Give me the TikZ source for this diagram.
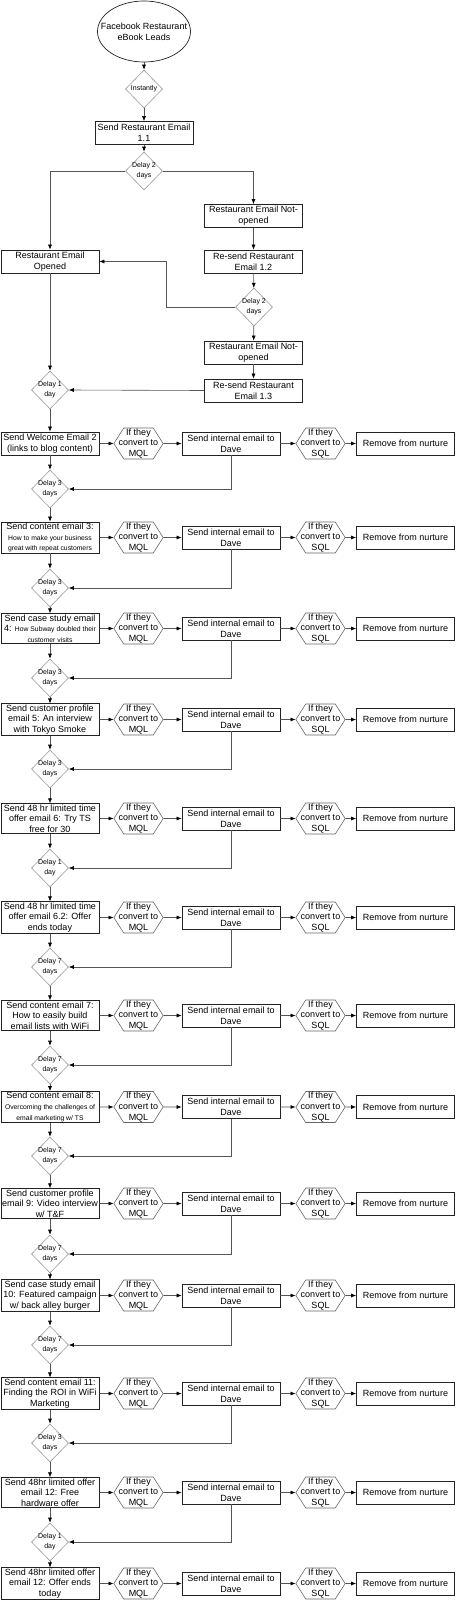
\documentclass[tikz,border=0pt]{standalone}
\usepackage{fontspec}
\setmainfont{Liberation Sans}
\usetikzlibrary{positioning}
\usetikzlibrary{shapes.geometric}
\usetikzlibrary{shapes.symbols}
\usetikzlibrary{arrows.meta}
\definecolor{lineColor}{HTML}{555555}
\definecolor{boxColor}{HTML}{222222}
\definecolor{hexColor}{HTML}{666666}
\definecolor{delayColor}{HTML}{999999}
\newcommand{\txtn}{\fontsize{9}{10.7}\selectfont}
\newcommand{\txts}{\fontsize{6.8}{10.7}\selectfont}
\newcommand{\txtd}{\fontsize{7}{10}\selectfont}

\begin{document}
\begin{tikzpicture}[
			x=1pt, y=-1pt,
			box/.style={draw=boxColor, line width=0.7pt, minimum width=98, minimum height=23, inner xsep=0.5, inner ysep=0.8, align=center, font=\txtn},
			lead/.style={ellipse, draw=boxColor, line width=0.7pt, minimum width=93, minimum height=61, inner xsep=-11pt, inner ysep=0pt, align=center, font=\txtn},
			delay/.style={diamond, draw=delayColor, line width=0.6pt, minimum width=37, minimum height=38, inner sep=-5pt, align=center, font=\txtd},
			hexa/.style={signal, signal to=east and west, signal pointer angle=115, draw=hexColor, line width=0.6pt, minimum height=31, inner xsep=-5pt, inner ysep=0pt, align=center, font=\txtn},
			flow/.style={draw=lineColor, line width=0.6pt, -{Latex[length=5pt,width=4pt,color=black]}},
			]
			\useasboundingbox (0,0) rectangle (456,1600);
			% opening branch
			\node[lead] (fb) at (144,31.5) {Facebook Restaurant\\eBook Leads};
			\node[delay] (inst) at (144,89) {Instantly};
			\node[box] (em11) at (144,133) {Send Restaurant Email\\1.1};
			\node[delay] (wait2a) at (144,171) {Delay 2\\days};
			\node[box] (notop1) at (253.5,216) {Restaurant Email Not-\\opened};
			\node[box] (opened) at (50,261.5) {Restaurant Email\\Opened};
			\node[box] (re12) at (253.5,261.5) {Re-send Restaurant\\Email 1.2};
			\node[delay] (wait2b) at (254,307) {Delay 2\\days};
			\node[box] (notop2) at (253.5,352.5) {Restaurant Email Not-\\opened};
			\node[box] (re13) at (253.5,390.5) {Re-send Restaurant\\Email 1.3};
			\node[delay] (wait1) at (50,390) {Delay 1\\day};
			% nurture emails
			\node[box] (s1) at (50,443.5) {Send Welcome Email 2\\(links to blog content)};
			\node[delay] (w1) at (50,489) {Delay 3\\days};
			\node[box] (s2) at (50,537.5) {Send content email 3:\\{\txts How to make your business}\\{\txts great with repeat customers}};
			\node[delay] (w2) at (50,588) {Delay 3\\days};
			\node[box] (s3) at (50,628.5) {Send case study email\\4: {\txts How Subway doubled their}\\{\txts customer visits}};
			\node[delay] (w3) at (50,678) {Delay 3\\days};
			\node[box] (s4) at (50,719.5) {Send customer profile\\email 5: An interview\\with Tokyo Smoke};
			\node[delay] (w4) at (50,769) {Delay 3\\days};
			\node[box] (s5) at (50,818.5) {Send 48 hr limited time\\offer email 6: Try TS\\free for 30};
			\node[delay] (w5) at (50,868) {Delay 1\\day};
			\node[box] (s6) at (50,917.5) {Send 48 hr limited time\\offer email 6.2: Offer\\ends today};
			\node[delay] (w6) at (50,967) {Delay 7\\days};
			\node[box] (s7) at (50,1015.5) {Send content email 7:\\How to easily build\\email lists with WiFi};
			\node[delay] (w7) at (50,1065) {Delay 7\\days};
			\node[box] (s8) at (50,1107) {Send content email 8:\\{\txts Overcoming the challenges of}\\{\txts email marketing w/ TS}};
			\node[delay] (w8) at (50,1156) {Delay 7\\days};
			\node[box] (s9) at (50,1203.5) {Send customer profile\\email 9: Video interview\\w/ T\&F};
			\node[delay] (w9) at (50,1254) {Delay 7\\days};
			\node[box] (s10) at (50,1295.5) {Send case study email\\10: Featured campaign\\w/ back alley burger};
			\node[delay] (w10) at (50,1345) {Delay 7\\days};
			\node[box] (s11) at (50,1393.5) {Send content email 11:\\Finding the ROI in WiFi\\Marketing};
			\node[delay] (w11) at (50,1443) {Delay 3\\days};
			\node[box] (s12) at (50,1492.5) {Send 48hr limited offer\\email 12: Free\\hardware offer};
			\node[delay] (w12) at (50,1542) {Delay 1\\day};
			\node[box] (s13) at (50,1583.5) {Send 48hr limited offer\\email 12: Offer ends\\today};
			% conversion checks
			\foreach \r/\y in {1/443.5, 2/537.5, 3/628.5, 4/719.5, 5/818.5, 6/917.5, 7/1015.5, 8/1107, 9/1203.5, 10/1295.5, 11/1393.5, 12/1492.5, 13/1583.5} {
				\node[hexa] (mql\r) at (138.5,\y) {If they\\convert to\\MQL};
				\node[box] (dave\r) at (231,\y) {Send internal email to\\Dave};
				\node[hexa] (sql\r) at (320.5,\y) {If they\\convert to\\SQL};
				\node[box] (rm\r) at (405.5,\y) {Remove from nurture};
				\draw[flow] (s\r) -- (mql\r);
				\draw[flow] (mql\r) -- (dave\r);
				\draw[flow] (dave\r) -- (sql\r);
				\draw[flow] (sql\r) -- (rm\r);
			}
			\draw[flow] (fb) -- (inst);
			\draw[flow] (inst) -- (em11);
			\draw[flow] (em11) -- (wait2a);
			\draw[flow] (wait2a.west) -| (opened.north);
			\draw[flow] (wait2a.east) -| (notop1.north);
			\draw[flow] (notop1) -- (re12);
			\draw[flow] (re12) -- (wait2b);
			\draw[flow] (wait2b.west) -- ++(-69,0) |- (opened.east);
			\draw[flow] (wait2b) -- (notop2);
			\draw[flow] (notop2) -- (re13);
			\draw[flow] (re13.west) -- (wait1.east);
			\draw[flow] (opened) -- (wait1);
			\draw[flow] (wait1) -- (s1);
			\foreach \r [count=\n from 2] in {1,...,12} {
				\draw[flow] (s\r) -- (w\r);
				\draw[flow] (w\r) -- (s\n);
				\draw[flow] (dave\r.south) |- (w\r.east);
			}
		\end{tikzpicture}
\end{document}
